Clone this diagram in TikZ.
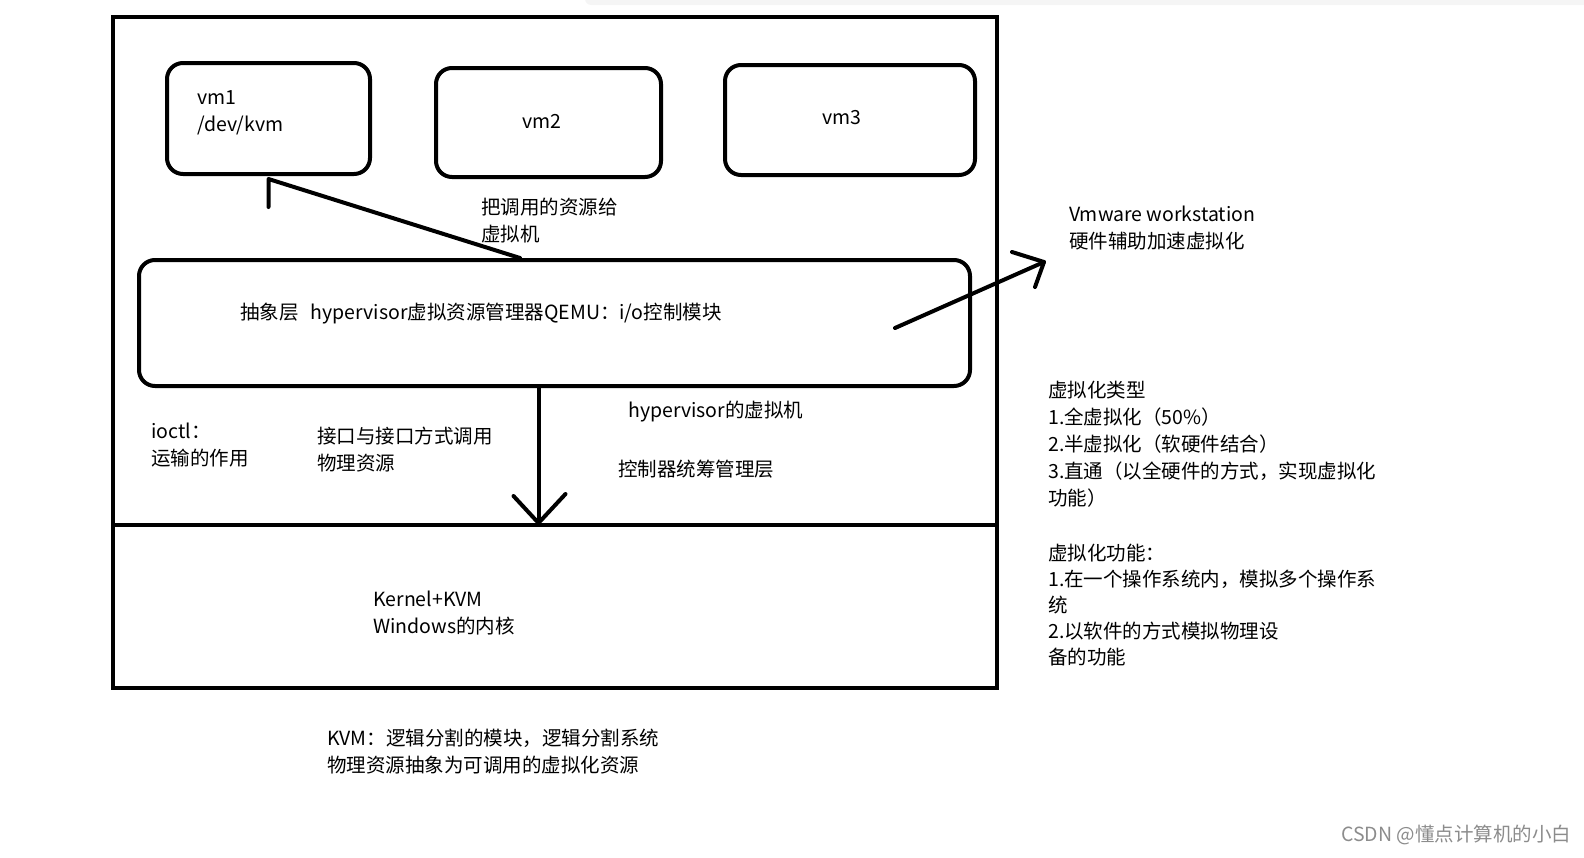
\documentclass[tikz,border=0pt]{standalone}
\usepackage{fontspec}
\setmainfont{Noto Sans CJK SC}
\usetikzlibrary{calc}
\newcommand\mlines[1]{\vtop{\baselineskip=27pt\lineskiplimit=-30pt\halign{##\hfil\cr#1\crcr}}}
\newcommand\mlinesb[1]{\vtop{\baselineskip=26pt\lineskiplimit=-30pt\halign{##\hfil\cr#1\crcr}}}
\tikzset{
  vmbox/.style={draw, line width=4pt, rounded corners=16pt},
  layer/.style={draw, line width=4pt},
  txt/.style={anchor=base west, inner sep=0pt, font=\fontsize{19.5}{27}\selectfont},
  arr/.style={line width=4pt, line cap=round, line join=round},
}
\begin{document}
\begin{tikzpicture}[x=1pt,y=-1pt]
\useasboundingbox (0,0) rectangle (1584,857);
\fill[black!4, rounded corners=6pt] (585,-8) rectangle (1600,5);

% outer layers
\node[layer, minimum width=884pt, minimum height=508pt, anchor=north west] (host) at (111,15) {};
\node[layer, minimum width=884pt, minimum height=163pt, anchor=north west] (kernel) at (111,523) {};

% vm boxes
\node[vmbox, minimum width=203pt, minimum height=111pt] (vm1) at (268.5,118.5) {};
\node[vmbox, minimum width=225pt, minimum height=109pt] (vm2) at (548.5,122.5) {};
\node[vmbox, minimum width=250pt, minimum height=110pt] (vm3) at (850,120) {};

% hypervisor box
\node[vmbox, minimum width=831pt, minimum height=126pt] (hyp) at (554.5,323) {};

% texts
\node[txt] (t-vm1) at (197,104) {\mlines{vm1\cr /dev/kvm}};
\node[txt] (t-vm2) at (522,128) {vm2};
\node[txt] (t-vm3) at (822,124) {vm3};
\node[txt] (t-give) at (481,214) {\mlines{把调用的资源给\cr 虚拟机}};
\node[txt] (t-hyp) at (240,319) {抽象层\hspace{12pt}hypervisor虚拟资源管理器QEMU：i/o控制模块};
\node[txt] (t-vmw) at (1069,221) {\mlines{Vmware workstation\cr 硬件辅助加速虚拟化}};
\node[txt] (t-ioctl) at (151,438) {\mlines{ioctl：\cr 运输的作用}};
\node[txt] (t-iface) at (317,443) {\mlines{接口与接口方式调用\cr 物理资源}};
\node[txt] (t-hypvm) at (628,417) {hypervisor的虚拟机};
\node[txt] (t-ctrl) at (618,476) {控制器统筹管理层};
\node[txt] (t-kern) at (373,606) {\mlines{Kernel+KVM\cr Windows的内核}};
\node[txt] (t-kvm) at (327,745) {\mlines{KVM：逻辑分割的模块，逻辑分割系统\cr 物理资源抽象为可调用的虚拟化资源}};
\node[txt] (t-types) at (1048,397) {\mlines{虚拟化类型\cr 1.全虚拟化（50\%）\cr 2.半虚拟化（软硬件结合）\cr 3.直通（以全硬件的方式，实现虚拟化\cr 功能）}};
\node[txt] (t-func) at (1048,560) {\mlinesb{虚拟化功能：\cr 1.在一个操作系统内，模拟多个操作系\cr 统\cr 2.以软件的方式模拟物理设\cr 备的功能}};
\node[txt, text=black!45, font=\fontsize{19.5}{24}\selectfont] (wm) at (1341,841) {CSDN @懂点计算机的小白};

% arrow hypervisor -> vm1
\draw[arr] ([xshift=-34.5pt]hyp.north) -- ([yshift=-3pt]vm1.south) -- ++(0,28);

% arrow hypervisor -> kernel
\coordinate (dtip) at ([xshift=-16pt]hyp.south |- kernel.north);
\draw[arr] ([xshift=-16pt]hyp.south) -- (dtip);
\draw[arr] ($(dtip)+(-25,-27)$) -- (dtip) -- ($(dtip)+(27,-29)$);

% arrow hypervisor -> vmware
\coordinate (rstart) at (895,328);
\coordinate (rtip) at (1044,262);
\draw[arr] (rstart) -- (rtip);
\draw[arr] (1012,252) -- (rtip) -- (1035,287);
\end{tikzpicture}
\end{document}
